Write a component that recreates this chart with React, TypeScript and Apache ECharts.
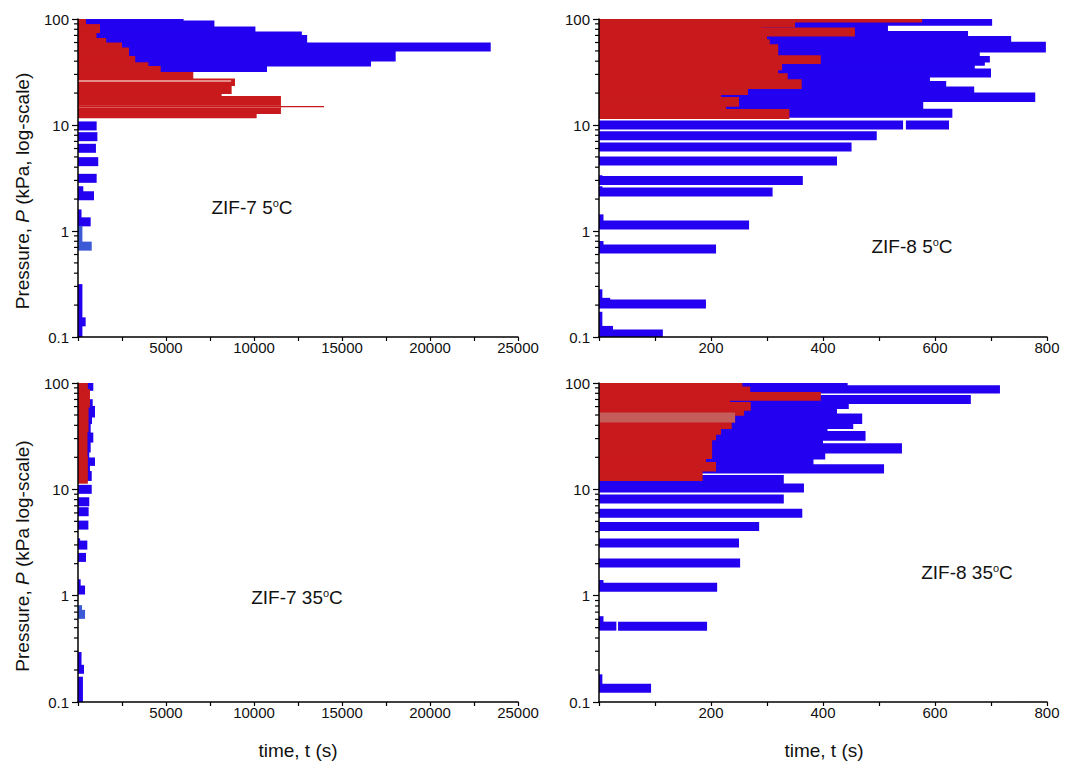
import React, { useEffect, useRef } from "react";
import * as echarts from "echarts";

// ---------- data (pressure in kPa, time in s) ----------
// steps: [pHigh, pLow, tEnd] ; levels: [P, tStart, tEnd] ; streaks: [P, tEnd]

// ZIF-7 5°C
const zif7_5_blueSteps = [
  [100, 95.1, 6000], [95.1, 83.5, 7750], [83.5, 74.9, 10080], [74.9, 69.6, 12720],
  [69.6, 59.0, 13020], [59.0, 50.3, 23450], [50.3, 40.4, 18050], [40.4, 36.3, 16650],
  [36.3, 32.1, 10740],
  [2.6, 2.1, 300], [1.57, 1.2, 200], [0.31, 0.1, 250],
];
const zif7_5_blueLevels = [
  [9.8, 0, 1060], [7.76, 0, 1100], [6.03, 0, 1020], [4.51, 0, 1150], [3.14, 0, 1060],
  [2.15, 0, 910], [1.22, 0, 720], [0.139, 0, 435],
];
const zif7_5_lightSteps = [[1.1, 0.72, 250]];
const zif7_5_lightLevels = [[0.72, 0, 780]];
const zif7_5_redSteps = [
  [100, 88, 450], [88, 74.9, 1250], [74.9, 65, 1050], [65, 59, 1600], [59, 52.9, 2500],
  [52.9, 44, 2900], [44, 38.5, 3250], [38.5, 35.5, 4000], [35.5, 31.1, 4700],
  [31.1, 27.0, 6550], [27.0, 23.8, 8920], [23.8, 19.9, 8730], [19.9, 18.5, 8160],
  [18.5, 12.9, 11530], [12.9, 11.8, 10150],
];
const zif7_5_paleStreaks = [[26.0, 8700], [14.9, 11500]];
const zif7_5_redStreaks = [[14.9, 13980]];

// ZIF-8 5°C
const zif8_5_blueSteps = [
  [100, 87.8, 702], [87.8, 75.9, 516], [75.9, 68.1, 659], [68.1, 59.8, 736],
  [59.8, 49.2, 798], [49.2, 44.1, 680], [44.1, 39.6, 698], [39.6, 36.8, 689],
  [36.8, 33.6, 671], [33.6, 28.5, 700], [28.5, 25.6, 591], [25.6, 22.7, 620],
  [22.7, 19.9, 670], [19.9, 16.8, 779], [16.8, 14.4, 579],
  [0.17, 0.12, 6], [0.125, 0.102, 25], [0.277, 0.22, 6], [0.23, 0.195, 20],
  [0.79, 0.68, 8], [1.41, 1.2, 8], [1.22, 1.1, 20], [2.6, 2.3, 6], [3.3, 3.0, 6],
];
const zif8_5_blueLevels = [
  [0.107, 0, 114], [0.205, 0, 191], [0.676, 0, 209], [1.14, 0, 268], [2.33, 0, 310],
  [3.0, 0, 364], [4.57, 0, 425], [6.2, 0, 451], [7.9, 0, 496], [10, 0, 543],
  [10, 548, 625], [12.9, 0, 631],
];
const zif8_5_redSteps = [
  [100, 94.3, 577], [94.3, 84.6, 350], [84.6, 81.7, 290], [81.7, 69.6, 457],
  [69.6, 63.4, 300], [63.4, 56.8, 305], [56.8, 51.0, 320], [51.0, 44.8, 320],
  [44.8, 38.2, 396], [38.2, 33.5, 327], [33.5, 30.3, 320], [30.3, 26.6, 337],
  [26.6, 22.2, 362], [22.2, 19.5, 266], [19.5, 18.1, 218], [18.1, 15.1, 250],
  [15.1, 13.9, 227], [13.9, 11.6, 340],
];

// ZIF-7 35°C
const zif7_35_blueSteps = [
  [100, 85.9, 870], [85.9, 69.2, 640], [69.2, 59.8, 835], [59.8, 48.2, 965],
  [48.2, 41.8, 795], [41.8, 33.6, 720], [33.6, 28.0, 870], [28.0, 22.6, 720],
  [22.6, 19.6, 640], [19.6, 16.9, 965], [16.9, 14.6, 680], [14.6, 12.2, 780],
  [3.4, 2.9, 120], [1.4, 1.1, 150], [0.29, 0.2, 200], [0.17, 0.1, 280],
];
const zif7_35_blueLevels = [
  [10.0, 0, 780], [7.64, 0, 640], [6.16, 0, 605], [4.61, 0, 590], [2.99, 0, 530],
  [2.29, 0, 455], [1.13, 0, 400], [0.203, 0, 340],
];
const zif7_35_lightSteps = [[0.8, 0.66, 230]];
const zif7_35_lightLevels = [[0.667, 0, 400]];
const zif7_35_redSteps = [
  [100, 86, 560], [86, 60, 680], [60, 35, 600], [35, 20, 540], [20, 11.5, 560],
];

// ZIF-8 35°C
const zif8_35_blueSteps = [
  [100, 93.7, 444], [93.7, 81.0, 716], [81.0, 75.9, 395], [75.9, 64.4, 664],
  [64.4, 57.8, 446], [57.8, 50.8, 425], [50.8, 41.8, 470], [41.8, 37.5, 454],
  [37.5, 34.8, 408], [34.8, 29.1, 476], [29.1, 26.7, 400], [26.7, 22.1, 541],
  [22.1, 19.4, 404], [19.4, 16.9, 383], [16.9, 14.3, 509],
  [0.179, 0.14, 6], [0.145, 0.128, 15], [0.63, 0.53, 8], [1.38, 1.2, 8],
];
const zif8_35_blueLevels = [
  [0.135, 0, 93], [0.517, 0, 31], [0.517, 34, 193], [1.2, 0, 211], [2.03, 0, 252],
  [3.13, 0, 250], [4.46, 0, 286], [5.96, 0, 363], [8.1, 0, 330], [10.3, 0, 366],
  [12.4, 0, 330],
];
const zif8_35_redSteps = [
  [100, 91.1, 256], [91.1, 81.0, 270], [81.0, 69.2, 396], [69.2, 65.3, 234],
  [65.3, 55.7, 271], [55.7, 50.0, 259], [50.0, 43.3, 243], [43.3, 37.5, 237],
  [37.5, 33.1, 218], [33.1, 29.5, 209], [29.5, 19.6, 202], [19.6, 17.8, 191],
  [17.8, 15.0, 209], [15.0, 12.2, 185],
];
const zif8_35_greySteps = [[51.9, 43.3, 243]];

// axes and labels
const yMinorTicks = [0.2, 0.3, 0.4, 0.5, 0.6, 0.7, 0.8, 0.9, 2, 3, 4, 5, 6, 7, 8, 9, 20, 30, 40, 50, 60, 70, 80, 90];
const panelTitles = ["ZIF-7 5", "ZIF-8 5", "ZIF-7 35", "ZIF-8 35"];

// ---------- styles ----------
const FONT = "'Liberation Sans', Arial, sans-serif";
const BLUE = "#2300f0";
const LIGHTBLUE = "#3d5ad6";
const RED = "#c8191c";
const GREY = "#c45c5a";
const PALE = "#e88a88";
const LEVEL_THICK = 9;
const OVERLAP = 0.8;

const stepItem = (color: string) => (_p: any, api: any) => {
  const a = api.coord([0, api.value(0)]);
  const b = api.coord([api.value(2), api.value(1)]);
  return {
    type: "rect",
    shape: {
      x: a[0],
      y: a[1] - OVERLAP,
      width: Math.max(0, b[0] - a[0]),
      height: b[1] - a[1] + 2 * OVERLAP,
    },
    style: { fill: color },
  };
};
const levelItem = (color: string, thick: number) => (_p: any, api: any) => {
  const a = api.coord([api.value(1), api.value(0)]);
  const b = api.coord([api.value(2), api.value(0)]);
  return {
    type: "rect",
    shape: { x: a[0], y: a[1] - thick / 2, width: Math.max(0, b[0] - a[0]), height: thick },
    style: { fill: color },
  };
};
const streakItem = (color: string, thick: number) => (_p: any, api: any) => {
  const a = api.coord([0, api.value(0)]);
  const b = api.coord([api.value(1), api.value(0)]);
  return {
    type: "rect",
    shape: { x: a[0], y: a[1] - thick / 2, width: Math.max(0, b[0] - a[0]), height: thick },
    style: { fill: color },
  };
};
const minorTickItem = (_p: any, api: any) => {
  const c = api.coord([0, api.value(1)]);
  return {
    type: "line",
    shape: { x1: c[0] - 4, y1: c[1], x2: c[0], y2: c[1] },
    style: { stroke: "#000", lineWidth: 1.2 },
  };
};

function cs(i: number, data: any[], encode: any, renderItem: any, z: number) {
  return {
    type: "custom",
    xAxisIndex: i,
    yAxisIndex: i,
    data,
    encode,
    renderItem,
    clip: true,
    silent: true,
    z,
  };
}

function panel(i: number, d: any) {
  const s: any[] = [];
  const stepEnc = { x: 2, y: [0, 1] };
  const lvlEnc = { x: [1, 2], y: 0 };
  const strEnc = { x: 1, y: 0 };
  if (d.blueSteps) s.push(cs(i, d.blueSteps, stepEnc, stepItem(BLUE), 2));
  if (d.blueLevels) s.push(cs(i, d.blueLevels, lvlEnc, levelItem(BLUE, LEVEL_THICK), 2));
  if (d.lightSteps) s.push(cs(i, d.lightSteps, stepEnc, stepItem(LIGHTBLUE), 2));
  if (d.lightLevels) s.push(cs(i, d.lightLevels, lvlEnc, levelItem(LIGHTBLUE, LEVEL_THICK), 2));
  if (d.redSteps) s.push(cs(i, d.redSteps, stepEnc, stepItem(RED), 3));
  if (d.greySteps) s.push(cs(i, d.greySteps, stepEnc, stepItem(GREY), 4));
  if (d.paleStreaks) s.push(cs(i, d.paleStreaks, strEnc, streakItem(PALE, 2), 4));
  if (d.redStreaks) s.push(cs(i, d.redStreaks, strEnc, streakItem(RED, 1.4), 4));
  s.push({
    type: "custom",
    xAxisIndex: i,
    yAxisIndex: i,
    data: yMinorTicks.map((v) => [0, v]),
    encode: { x: 0, y: 1 },
    renderItem: minorTickItem,
    clip: false,
    silent: true,
    z: 12,
  });
  return s;
}

const grids = [
  { left: 78, top: 19, width: 440, height: 318 },
  { left: 599, top: 19, width: 448, height: 318 },
  { left: 78, top: 383, width: 440, height: 319 },
  { left: 599, top: 383, width: 448, height: 319 },
];

function xAxisCfg(i: number, max: number, interval: number, labelStep: number) {
  return {
    gridIndex: i,
    type: "value",
    min: 0,
    max,
    interval,
    z: 10,
    axisLine: { show: true, onZero: false, lineStyle: { color: "#000", width: 1.5 } },
    axisTick: { show: true, length: 4, lineStyle: { color: "#000", width: 1.2 } },
    axisLabel: {
      margin: 3,
      fontSize: 15,
      color: "#111",
      fontFamily: FONT,
      formatter: (v: number) => (v > 0 && Math.round(v) % labelStep === 0 ? String(Math.round(v)) : ""),
    },
    splitLine: { show: false },
  };
}
function yAxisCfg(i: number) {
  return {
    gridIndex: i,
    type: "log",
    logBase: 10,
    min: 0.1,
    max: 100,
    z: 10,
    axisLine: { show: true, onZero: false, lineStyle: { color: "#000", width: 1.5 } },
    axisTick: { show: true, length: 6, lineStyle: { color: "#000", width: 1.2 } },
    axisLabel: {
      margin: 9,
      fontSize: 15,
      color: "#111",
      fontFamily: FONT,
      formatter: (v: number) => String(parseFloat(Number(v).toPrecision(3))),
    },
    splitLine: { show: false },
  };
}

const baseText = {
  fontSize: 19,
  fontFamily: FONT,
  fill: "#111",
  textAlign: "center",
  align: "center",
  textVerticalAlign: "middle",
  verticalAlign: "middle",
};

function label(text: string, x: number, y: number) {
  return {
    type: "text",
    x,
    y,
    z: 20,
    style: {
      ...baseText,
      text: text + "{s|o}C",
      rich: {
        s: { fontSize: 11, fontFamily: FONT, fill: "#111", verticalAlign: "top" },
      },
    },
  };
}
function rotLabel(text: string, x: number, y: number) {
  return {
    type: "text",
    x,
    y,
    rotation: Math.PI / 2,
    z: 20,
    style: {
      ...baseText,
      text,
      rich: {
        i: { fontSize: 19, fontFamily: FONT, fontStyle: "italic", fill: "#111" },
      },
    },
  };
}
function plainLabel(text: string, x: number, y: number) {
  return { type: "text", x, y, z: 20, style: { ...baseText, text } };
}

export default function App() {
  const ref = useRef<HTMLDivElement>(null);
  useEffect(() => {
    if (!ref.current) return;
    const chart = echarts.init(ref.current, undefined, { renderer: "svg" });
    const series = [
      ...panel(0, {
        blueSteps: zif7_5_blueSteps, blueLevels: zif7_5_blueLevels,
        lightSteps: zif7_5_lightSteps, lightLevels: zif7_5_lightLevels,
        redSteps: zif7_5_redSteps, paleStreaks: zif7_5_paleStreaks, redStreaks: zif7_5_redStreaks,
      }),
      ...panel(1, { blueSteps: zif8_5_blueSteps, blueLevels: zif8_5_blueLevels, redSteps: zif8_5_redSteps }),
      ...panel(2, {
        blueSteps: zif7_35_blueSteps, blueLevels: zif7_35_blueLevels,
        lightSteps: zif7_35_lightSteps, lightLevels: zif7_35_lightLevels, redSteps: zif7_35_redSteps,
      }),
      ...panel(3, {
        blueSteps: zif8_35_blueSteps, blueLevels: zif8_35_blueLevels,
        redSteps: zif8_35_redSteps, greySteps: zif8_35_greySteps,
      }),
    ];
    chart.setOption({
      animation: false,
      backgroundColor: "#fff",
      grid: grids,
      xAxis: [
        xAxisCfg(0, 25000, 2500, 5000),
        xAxisCfg(1, 800, 100, 200),
        xAxisCfg(2, 25000, 2500, 5000),
        xAxisCfg(3, 800, 100, 200),
      ],
      yAxis: [yAxisCfg(0), yAxisCfg(1), yAxisCfg(2), yAxisCfg(3)],
      series,
      graphic: [
        label(panelTitles[0], 252, 207),
        label(panelTitles[1], 912, 246),
        label(panelTitles[2], 297, 597),
        label(panelTitles[3], 967, 572),
        rotLabel("Pressure, {i|P} (kPa, log-scale)", 22, 191),
        rotLabel("Pressure, {i|P} (kPa log-scale)", 22, 556),
        plainLabel("time, t (s)", 298, 750),
        plainLabel("time, t (s)", 824, 750),
      ],
    });
    return () => chart.dispose();
  }, []);
  return (
    <div
      ref={ref}
      style={{ position: "absolute", left: 0, top: 0, width: 1072, height: 762, background: "#fff" }}
    />
  );
}
